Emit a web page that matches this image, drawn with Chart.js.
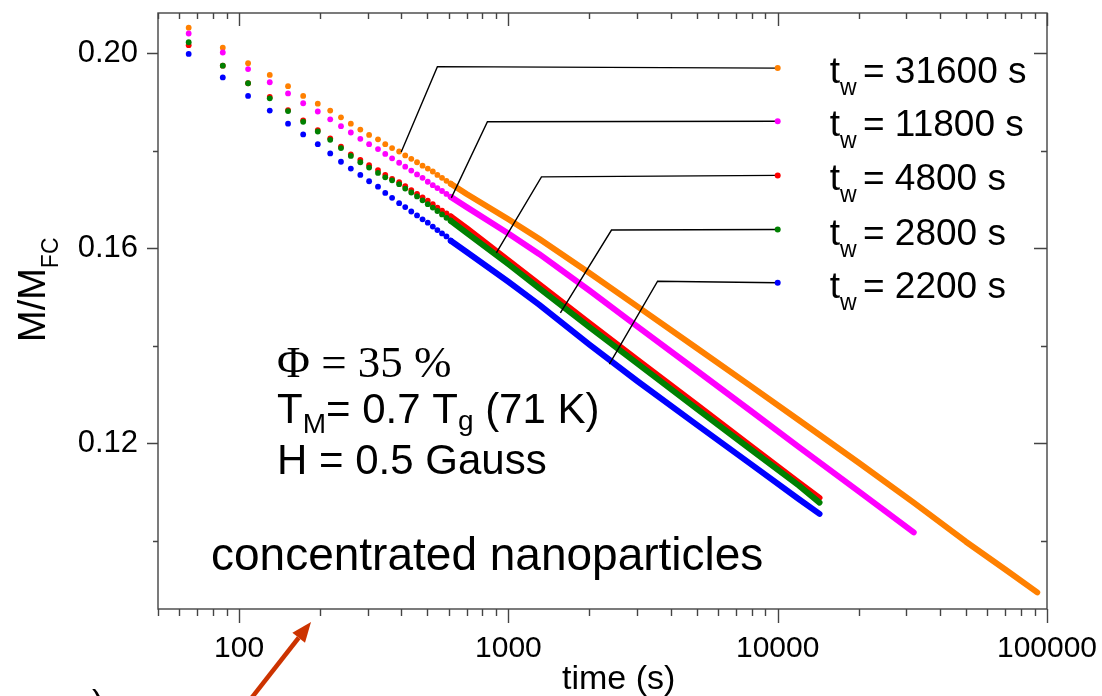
<!DOCTYPE html>
<html>
<head>
<meta charset="utf-8">
<script src="https://cdn.jsdelivr.net/npm/chart.js@4.4.1/dist/chart.umd.min.js"></script>
<style>
  html, body { margin: 0; padding: 0; background: #fff; }
  canvas { display: block; }
</style>
</head>
<body>
<canvas id="chart" width="1102" height="696"></canvas>
<script>
// ---- data ----
// early times (s): individual dots, one every ~22 s
const T_EARLY = [65, 87, 108, 130, 152, 173, 196, 218, 239, 260, 282, 304, 328, 349, 370, 393,
                 414, 436, 458, 480, 502, 524, 545, 567, 589, 611];

const orangeEarly  = [0.2052, 0.2011, 0.1979, 0.1955, 0.1932, 0.1912, 0.1896, 0.1882, 0.1868, 0.1855, 0.1843, 0.1832, 0.1823, 0.1813, 0.1805, 0.1798,
                      0.1790, 0.1783, 0.1776, 0.1769, 0.1763, 0.1757, 0.1750, 0.1744, 0.1738, 0.1732];
const magentaEarly = [0.2040, 0.2001, 0.1967, 0.1940, 0.1917, 0.1897, 0.1880, 0.1864, 0.1850, 0.1837, 0.1824, 0.1813, 0.1803, 0.1793, 0.1784, 0.1775,
                      0.1767, 0.1759, 0.1751, 0.1744, 0.1736, 0.1729, 0.1723, 0.1717, 0.1711, 0.1705];
const redEarly     = [0.2016, 0.1974, 0.1938, 0.1910, 0.1883, 0.1862, 0.1842, 0.1825, 0.1808, 0.1792, 0.1781, 0.1770, 0.1760, 0.1750, 0.1742, 0.1735,
                      0.1727, 0.1719, 0.1711, 0.1704, 0.1697, 0.1690, 0.1683, 0.1677, 0.1671, 0.1665];
const greenEarly   = [0.2022, 0.1974, 0.1938, 0.1907, 0.1881, 0.1859, 0.1839, 0.1822, 0.1805, 0.1789, 0.1776, 0.1765, 0.1754, 0.1745, 0.1739, 0.1731,
                      0.1722, 0.1714, 0.1706, 0.1698, 0.1690, 0.1683, 0.1676, 0.1669, 0.1662, 0.1656];
const blueEarly    = [0.1998, 0.1950, 0.1912, 0.1882, 0.1855, 0.1833, 0.1813, 0.1794, 0.1777, 0.1763, 0.1750, 0.1737, 0.1726, 0.1713, 0.1703, 0.1692,
                      0.1684, 0.1675, 0.1667, 0.1659, 0.1652, 0.1644, 0.1637, 0.1630, 0.1624, 0.1615];

// later times: dots merge into a thick trace
const T_SHORT   = [700, 1000, 1300, 2000, 3000, 5000, 8000, 12000, 14300];
const T_MAGENTA = [700, 1000, 1300, 2000, 3000, 5000, 8000, 12000, 20000, 32000];
const T_ORANGE  = [700, 1000, 1300, 2000, 3000, 5000, 8000, 12000, 20000, 32000, 50000, 70000, 92000];

const orangeLate  = [0.1711, 0.1659, 0.1619, 0.1549, 0.1481, 0.1395, 0.1316, 0.1247, 0.1160, 0.1078, 0.0998, 0.0941, 0.0894];
const magentaLate = [0.1684, 0.1630, 0.1588, 0.1513, 0.1440, 0.1349, 0.1265, 0.1192, 0.1101, 0.1017];
const redLate     = [0.1641, 0.1575, 0.1526, 0.1446, 0.1372, 0.1279, 0.1193, 0.1119, 0.1088];
const greenLate   = [0.1631, 0.1567, 0.1518, 0.1438, 0.1364, 0.1271, 0.1186, 0.1113, 0.1078];
const blueLate    = [0.1592, 0.1531, 0.1484, 0.1402, 0.1328, 0.1238, 0.1156, 0.1085, 0.1055];

// leader lines: point on curve, knee, legend dot
const leadOrangeT  = [400, 545, 10000],   leadOrangeM  = [0.1797, 0.1972, 0.1969];
const leadMagentaT = [614, 836, 10000],   leadMagentaM = [0.1703, 0.1859, 0.1860];
const leadRedT     = [902, 1327, 10000],  leadRedM     = [0.1590, 0.1746, 0.1749];
const leadGreenT   = [1560, 2415, 10000], leadGreenM   = [0.1467, 0.1637, 0.1638];
const leadBlueT    = [2371, 3582, 10000], leadBlueM    = [0.1362, 0.1532, 0.1529];

const TW_LABELS = ['31600', '11800', '4800', '2800', '2200'];
const COLORS = ['#ff8000', '#ff00ff', '#ff0000', '#008000', '#0000ff'];

const X_MIN = 50, X_MAX = 100000;
const Y_MIN = 0.0860, Y_MAX = 0.2082;
const X_LABELS = [100, 1000, 10000, 100000];
const Y_TICKS = [0.10, 0.12, 0.14, 0.16, 0.18, 0.20];
const Y_LABELS = [0.12, 0.16, 0.20];

const LINE_FROM = 600; // trace drawn as solid line from here on

const SANS = '"Liberation Sans", Arial, Helvetica, sans-serif';
const SERIF = '"Liberation Serif", "Times New Roman", serif';

// minor + major log ticks
const X_TICKS = [];
[10, 100, 1000, 10000].forEach(d => {
  for (let k = 1; k <= 9; k++) { const v = d * k; if (v >= X_MIN) X_TICKS.push(v); }
});
X_TICKS.push(100000);

function seriesDataset(label, color, earlyM, lateT, lateM) {
  const data = T_EARLY.map((t, i) => ({ x: t, y: earlyM[i] }))
    .concat(lateT.map((t, i) => ({ x: t, y: lateM[i] })));
  const lastEarly = T_EARLY[T_EARLY.length - 1];
  return {
    label, data,
    borderColor: color,
    backgroundColor: color,
    pointBackgroundColor: color,
    pointBorderWidth: 0,
    pointRadius: ctx => (ctx.raw && ctx.raw.x <= lastEarly) ? 2.9 : 0,
    borderWidth: 6,
    borderCapStyle: 'round',
    borderJoinStyle: 'round',
    tension: 0,
    fill: false,
    segment: {
      borderColor: ctx => ctx.p0.parsed.x < LINE_FROM ? 'rgba(0,0,0,0)' : color
    }
  };
}

function leaderDataset(color, ts, ms) {
  return {
    label: 'leader',
    data: ts.map((t, i) => ({ x: t, y: ms[i] })),
    borderColor: '#000',
    borderWidth: 1.4,
    pointRadius: [0, 0, 3],
    pointBackgroundColor: color,
    pointBorderWidth: 0,
    tension: 0,
    fill: false
  };
}

const isClose = (a, b) => Math.abs(a - b) < 1e-6;

// text with sub-scripts: parts = [{t, size, dy}]
function drawRuns(ctx, x, y, parts, family) {
  let cx = x;
  parts.forEach(p => {
    ctx.font = `${p.size}px ${p.family || family}`;
    ctx.fillText(p.t, cx, y + (p.dy || 0));
    cx += ctx.measureText(p.t).width;
  });
}

function noPad(s) {
  s.paddingLeft = 0; s.paddingRight = 0; s.paddingTop = 0; s.paddingBottom = 0;
}

const decor = {
  id: 'decor',
  afterDraw(chart) {
    const { ctx, chartArea: a } = chart;
    const xs = chart.scales.x, ys = chart.scales.y;
    ctx.save();

    // frame
    ctx.strokeStyle = '#444';
    ctx.lineWidth = 1.4;
    ctx.strokeRect(a.left, a.top, a.right - a.left, a.bottom - a.top);

    // x ticks: outward at bottom, inward at top
    X_TICKS.forEach(v => {
      const px = Math.round(xs.getPixelForValue(v)) + 0.5;
      const major = X_LABELS.includes(v);
      ctx.beginPath();
      ctx.moveTo(px, a.bottom); ctx.lineTo(px, a.bottom + (major ? 14 : 7));
      ctx.moveTo(px, a.top); ctx.lineTo(px, a.top + (major ? 13 : 6));
      ctx.stroke();
    });
    // y ticks: outward at left, inward at right
    Y_TICKS.forEach(v => {
      const py = Math.round(ys.getPixelForValue(v)) + 0.5;
      const major = Y_LABELS.some(l => isClose(l, v));
      ctx.beginPath();
      ctx.moveTo(a.left, py); ctx.lineTo(a.left - (major ? 11 : 5), py);
      ctx.moveTo(a.right, py); ctx.lineTo(a.right - (major ? 13 : 6), py);
      ctx.stroke();
    });

    ctx.fillStyle = '#000';
    ctx.textAlign = 'left';
    ctx.textBaseline = 'alphabetic';

    // legend text next to the leader dots
    const leadEnds = [leadOrangeM, leadMagentaM, leadRedM, leadGreenM, leadBlueM];
    leadEnds.forEach((m, i) => {
      const px = xs.getPixelForValue(10000);
      const py = ys.getPixelForValue(m[2]);
      drawRuns(ctx, px + 52, py + 15, [
        { t: 't', size: 37 },
        { t: 'w ', size: 23, dy: 12 },
        { t: '= ' + TW_LABELS[i] + ' s', size: 37 }
      ], SANS);
    });

    // annotation block
    drawRuns(ctx, 277, 377, [{ t: '\u03A6 = 35 %', size: 45 }], SERIF);
    drawRuns(ctx, 277, 423, [
      { t: 'T', size: 42 },
      { t: 'M', size: 28, dy: 10 },
      { t: '= 0.7 T', size: 42 },
      { t: 'g', size: 28, dy: 7 },
      { t: ' (71 K)', size: 42 }
    ], SANS);
    drawRuns(ctx, 277, 474, [{ t: 'H = 0.5 Gauss', size: 42 }], SANS);
    drawRuns(ctx, 211, 570, [{ t: 'concentrated nanoparticles', size: 46 }], SANS);

    // axis titles
    drawRuns(ctx, 562, 689, [{ t: 'time (s)', size: 34 }], SANS);
    ctx.save();
    ctx.translate(45, 342);
    ctx.rotate(-Math.PI / 2);
    drawRuns(ctx, 0, 0, [
      { t: 'M/M', size: 38 },
      { t: 'FC', size: 23, dy: 13 }
    ], SANS);
    ctx.restore();

    // stray glyph cut by the bottom edge
    drawRuns(ctx, 92, 713, [{ t: ')', size: 34 }], SANS);

    // red arrow below the axis
    const tipX = xs.getPixelForValue(185), tipY = a.bottom + 13;
    const tailX = xs.getPixelForValue(109), tailY = a.bottom + 92;
    const ang = Math.atan2(tipY - tailY, tipX - tailX);
    const headLen = 20, headW = 8;
    const baseX = tipX - headLen * Math.cos(ang), baseY = tipY - headLen * Math.sin(ang);
    ctx.strokeStyle = '#cc3300';
    ctx.fillStyle = '#cc3300';
    ctx.lineWidth = 4.5;
    ctx.lineCap = 'butt';
    ctx.beginPath();
    ctx.moveTo(tailX, tailY); ctx.lineTo(baseX, baseY);
    ctx.stroke();
    ctx.beginPath();
    ctx.moveTo(tipX, tipY);
    ctx.lineTo(baseX + headW * Math.sin(ang), baseY - headW * Math.cos(ang));
    ctx.lineTo(baseX - headW * Math.sin(ang), baseY + headW * Math.cos(ang));
    ctx.closePath();
    ctx.fill();

    ctx.restore();
  }
};

Chart.defaults.font.family = SANS;
Chart.defaults.color = '#000';

new Chart(document.getElementById('chart').getContext('2d'), {
  type: 'line',
  data: {
    datasets: [
      leaderDataset(COLORS[0], leadOrangeT, leadOrangeM),
      leaderDataset(COLORS[1], leadMagentaT, leadMagentaM),
      leaderDataset(COLORS[2], leadRedT, leadRedM),
      leaderDataset(COLORS[3], leadGreenT, leadGreenM),
      leaderDataset(COLORS[4], leadBlueT, leadBlueM),
      seriesDataset('tw = 2200 s', COLORS[4], blueEarly, T_SHORT, blueLate),
      seriesDataset('tw = 2800 s', COLORS[3], greenEarly, T_SHORT, greenLate),
      seriesDataset('tw = 4800 s', COLORS[2], redEarly, T_SHORT, redLate),
      seriesDataset('tw = 11800 s', COLORS[1], magentaEarly, T_MAGENTA, magentaLate),
      seriesDataset('tw = 31600 s', COLORS[0], orangeEarly, T_ORANGE, orangeLate)
    ]
  },
  options: {
    responsive: false,
    animation: false,
    devicePixelRatio: 1,
    layout: { padding: { left: 0, top: 13, right: 55, bottom: 0 } },
    plugins: { legend: { display: false }, tooltip: { enabled: false } },
    scales: {
      x: {
        type: 'logarithmic',
        min: X_MIN, max: X_MAX,
        grid: { display: false, drawTicks: false },
        border: { display: false },
        afterBuildTicks: s => { s.ticks = X_TICKS.map(v => ({ value: v, major: X_LABELS.includes(v) })); },
        afterFit: s => { s.height = 87; noPad(s); },
        ticks: {
          autoSkip: false, maxRotation: 0, minRotation: 0,
          padding: 22,
          font: { size: 30 },
          callback: v => X_LABELS.includes(v) ? String(v) : ''
        }
      },
      y: {
        type: 'linear',
        min: Y_MIN, max: Y_MAX,
        grid: { display: false, drawTicks: false },
        border: { display: false },
        afterBuildTicks: s => { s.ticks = Y_TICKS.map(v => ({ value: v })); },
        afterFit: s => { s.width = 158; noPad(s); },
        ticks: {
          autoSkip: false,
          padding: 20,
          font: { size: 31 },
          callback: v => Y_LABELS.some(l => isClose(l, v)) ? v.toFixed(2) : ''
        }
      }
    }
  },
  plugins: [decor]
});
</script>
</body>
</html>
